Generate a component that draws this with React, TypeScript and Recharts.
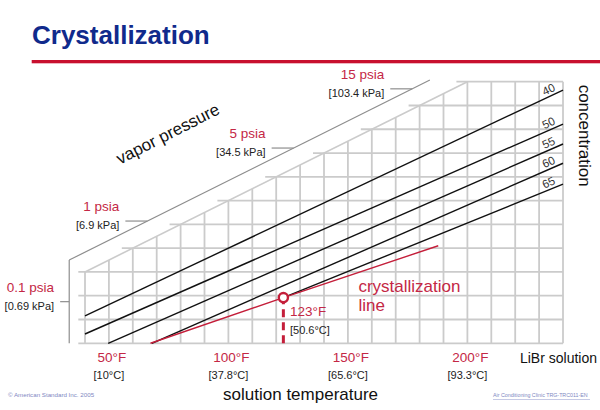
import React from 'react';
import { LineChart, Line, XAxis, YAxis, ReferenceLine, ReferenceDot } from 'recharts';

const FONT = '"Liberation Sans", Arial, Helvetica, sans-serif';
const RED = '#c41e3a';
const LABEL_RED = '#c42745';
const GRID = '#cbcbcb';
const FRAME = '#8e8e8e';

// x = solution temperature (°F), y = grid rows (one row per horizontal grid line)
const gridTemps = [40, 50, 60, 70, 80, 90, 100, 110, 120, 130, 140, 150, 160, 170, 180, 190, 200, 210, 220, 230, 240];
const gridRows = [0, 1, 2, 3, 4, 5, 6, 7, 8, 9, 10, 11];
const tempTicks = [50, 100, 150, 200];
const tempTicksC = ['[10°C]', '[37.8°C]', '[65.6°C]', '[93.3°C]'];

// stepped upper-left edge of the grid
const edgeT = [40, 200];
const edgeRow = [3, 11];

// vapor pressure frame (vertical + diagonal)
const frameT = [33.4, 33.4, 184.3];
const frameRow = [0, 3.5, 11.07];

const psiaLabels = ['0.1 psia', '1 psia', '5 psia', '15 psia'];
const kpaLabels = ['[0.69 kPa]', '[6.9 kPa]', '[34.5 kPa]', '[103.4 kPa]'];
const psiaRows = [1.75, 5.14, 8.21, 10.7];

// LiBr concentration lines
const concLabels = ['40', '50', '55', '60', '65'];
const concStartT = [40, 40, 49.7, 68, 123];
const concStartRow = [1.15, 0.39, 0, 0, 1.92];
const concEndT = [240, 240, 240, 240, 240];
const concEndRow = [10.65, 9.22, 8.38, 7.57, 6.69];

// crystallization line
const crystT = [67.4, 123, 187.8];
const crystRow = [0, 1.92, 4.1];

const edgeTAtRow = (r: number) => edgeT[0] + ((r - edgeRow[0]) * (edgeT[1] - edgeT[0])) / (edgeRow[1] - edgeRow[0]);
const edgeRowAtT = (t: number) => edgeRow[0] + ((t - edgeT[0]) * (edgeRow[1] - edgeRow[0])) / (edgeT[1] - edgeT[0]);
const frameTAtRow = (r: number) =>
  r <= frameRow[1] ? frameT[1] : frameT[1] + ((r - frameRow[1]) * (frameT[2] - frameT[1])) / (frameRow[2] - frameRow[1]);

const concSeries = concLabels.map((label, i) => ({
  label,
  points: [
    { x: concStartT[i], y: concStartRow[i] },
    { x: concEndT[i], y: concEndRow[i] },
  ],
}));
const crystData = crystT.map((t, i) => ({ x: t, y: crystRow[i] }));

const textDot = (key: string, x: number, y: number, draw: (cx: number, cy: number) => React.ReactNode) => (
  <ReferenceDot
    key={key}
    x={x}
    y={y}
    r={1}
    ifOverflow="visible"
    zIndex={2000}
    shape={(p: any) => <g>{draw(p.cx, p.cy)}</g>}
  />
);

const TempTick = (props: any) => {
  const { x, y, payload } = props;
  const i = tempTicks.indexOf(payload.value);
  return (
    <g fontFamily={FONT}>
      <text x={x + 3} y={y + 6.5} textAnchor="middle" fill={LABEL_RED} fontSize={13.5}>
        {payload.value}°F
      </text>
      <text x={x} y={y + 24} textAnchor="middle" fill="#222" fontSize={11}>
        {tempTicksC[i]}
      </text>
    </g>
  );
};

export default function App() {
  return (
    <div style={{ position: 'relative', width: 600, height: 410, background: '#fff' }}>
      <style>{'body{margin:0}'}</style>
      <svg width={600} height={410} style={{ position: 'absolute', left: 0, top: 0 }} fontFamily={FONT}>
        <text x={32} y={43.5} fontSize={26} fontWeight="bold" fill="#102a8c">
          Crystallization
        </text>
        <rect x={31.7} y={60} width={568.3} height={3.3} fill="#c8102e" />
        <text x={8} y={397} fontSize={6.2} fill="#8088c2">
          © American Standard Inc. 2005
        </text>
        <text x={493} y={396.5} fontSize={5.3} fill="#8088c2">
          Air Conditioning Clinic TRG-TRC011-EN
        </text>
        <line x1={493} x2={590} y1={399.5} y2={399.5} stroke="#b8bcde" strokeWidth={0.8} />
      </svg>
      <div style={{ position: 'absolute', left: 0, top: 0 }}>
        <LineChart width={600} height={410} margin={{ top: 69.81, right: 25.05, bottom: 24.83, left: 49.15 }}>
          <XAxis
            type="number"
            dataKey="x"
            domain={[25, 245]}
            ticks={tempTicks}
            tick={TempTick}
            interval={0}
            axisLine={false}
            tickLine={false}
            tickSize={0}
            tickMargin={0}
            height={30}
            allowDataOverflow
          />
          <YAxis type="number" dataKey="y" domain={[-0.5, 11.5]} hide allowDataOverflow />

          {gridTemps.map((t) => (
            <ReferenceLine
              key={'v' + t}
              segment={[{ x: t, y: 0 }, { x: t, y: Math.min(11, edgeRowAtT(t)) }]}
              stroke={GRID}
              strokeWidth={1.8}
              ifOverflow="visible"
              zIndex={-100}
            />
          ))}
          {gridRows.map((r) => (
            <ReferenceLine
              key={'h' + r}
              segment={[{ x: r <= 3 ? 37.2 : edgeTAtRow(r) - 4.6, y: r }, { x: 240, y: r }]}
              stroke={GRID}
              strokeWidth={1.8}
              ifOverflow="visible"
              zIndex={-100}
            />
          ))}
          <ReferenceLine
            segment={[{ x: edgeT[0], y: edgeRow[0] }, { x: edgeT[1], y: edgeRow[1] }]}
            stroke={GRID}
            strokeWidth={1.6}
            ifOverflow="visible"
            zIndex={-100}
          />

          <ReferenceLine
            segment={[{ x: frameT[0], y: frameRow[0] }, { x: frameT[1], y: frameRow[1] }]}
            stroke={FRAME}
            strokeWidth={1.2}
            ifOverflow="visible"
          />
          <ReferenceLine
            segment={[{ x: frameT[1], y: frameRow[1] }, { x: frameT[2], y: frameRow[2] }]}
            stroke={FRAME}
            strokeWidth={1.2}
            ifOverflow="visible"
          />
          {psiaRows.map((r, i) => (
            <ReferenceLine
              key={'lead' + i}
              segment={[{ x: frameTAtRow(r) - (i === 0 ? 3.8 : 9.2), y: r }, { x: frameTAtRow(r), y: r }]}
              stroke={FRAME}
              strokeWidth={1.2}
              ifOverflow="visible"
            />
          ))}

          <ReferenceLine
            segment={[{ x: crystT[1], y: 0 }, { x: crystT[1], y: crystRow[1] }]}
            stroke={RED}
            strokeWidth={3}
            strokeDasharray="8 5"
            ifOverflow="visible"
          />

          {concSeries.map((s) => (
            <Line
              key={'c' + s.label}
              data={s.points}
              dataKey="y"
              type="linear"
              stroke="#111"
              strokeWidth={1.4}
              dot={false}
              activeDot={false}
              legendType="none"
              isAnimationActive={false}
            />
          ))}
          <Line
            data={crystData}
            dataKey="y"
            type="linear"
            stroke={RED}
            strokeWidth={1.4}
            dot={false}
            activeDot={false}
            legendType="none"
            isAnimationActive={false}
          />
          <ReferenceDot
            x={crystT[1]}
            y={crystRow[1]}
            r={4.6}
            fill="#fff"
            stroke={RED}
            strokeWidth={2.4}
            ifOverflow="visible"
            zIndex={1500}
          />

          {psiaRows.map((r, i) =>
            textDot('p' + i, frameTAtRow(r) - (i === 0 ? 3.8 : 9.2), r, (cx, cy) => (
              <g fontFamily={FONT}>
                <text x={cx - 6} y={cy - 10} textAnchor="end" fontSize={13.5} fill={LABEL_RED}>
                  {psiaLabels[i]}
                </text>
                <text x={cx - 6} y={cy + 8} textAnchor="end" fontSize={11} fill="#222">
                  {kpaLabels[i]}
                </text>
              </g>
            ))
          )}

          {concSeries.map((s, i) => {
            const t = 234;
            const r =
              concStartRow[i] + ((concEndRow[i] - concStartRow[i]) * (t - concStartT[i])) / (concEndT[i] - concStartT[i]);
            return textDot('cl' + i, t, r, (cx, cy) => (
              <text
                x={cx}
                y={cy - 7.5}
                textAnchor="middle"
                dominantBaseline="central"
                fontSize={11.5}
                fill="#333"
                fontFamily={FONT}
                transform={`rotate(-25 ${cx} ${cy - 7.5})`}
              >
                {s.label}
              </text>
            ));
          })}

          {textDot('t123', crystT[1], crystRow[1], (cx, cy) => (
            <g fontFamily={FONT}>
              <text x={cx + 6.6} y={cy + 18.3} fontSize={13.5} fill={LABEL_RED}>
                123°F
              </text>
              <text x={cx + 6.6} y={cy + 36} fontSize={11} fill="#222">
                [50.6°C]
              </text>
            </g>
          ))}

          {textDot('cry', 154.4, 2.17, (cx, cy) => (
            <g fontFamily={FONT} fontSize={17} fill={LABEL_RED}>
              <text x={cx} y={cy}>crystallization</text>
              <text x={cx} y={cy + 19}>line</text>
            </g>
          ))}

          {textDot('vp', 74.7, 8.8, (cx, cy) => (
            <text
              x={cx}
              y={cy}
              textAnchor="middle"
              dominantBaseline="central"
              fontSize={17}
              fill="#111"
              fontFamily={FONT}
              transform={`rotate(-27 ${cx} ${cy})`}
            >
              vapor pressure
            </text>
          ))}

          {textDot('conc', 248.8, 8.73, (cx, cy) => (
            <text
              x={cx}
              y={cy}
              textAnchor="middle"
              dominantBaseline="central"
              fontSize={17}
              fill="#111"
              fontFamily={FONT}
              transform={`rotate(90 ${cx} ${cy})`}
            >
              concentration
            </text>
          ))}

          {textDot('libr', 222, 0, (cx, cy) => (
            <text x={cx} y={cy + 19.4} fontSize={14} fill="#111" fontFamily={FONT}>
              LiBr solution
            </text>
          ))}

          {textDot('st', 130.2, 0, (cx, cy) => (
            <text x={cx} y={cy + 57.2} textAnchor="middle" fontSize={17} fill="#111" fontFamily={FONT}>
              solution temperature
            </text>
          ))}
        </LineChart>
      </div>
    </div>
  );
}
